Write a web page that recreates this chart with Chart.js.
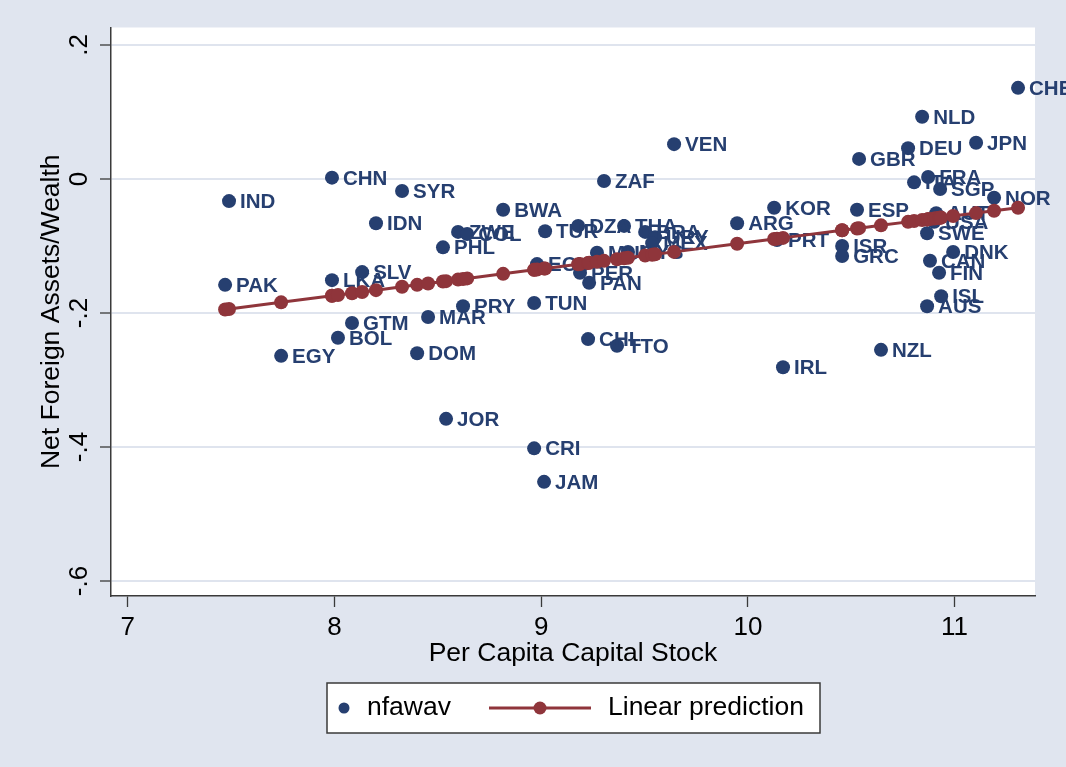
<!DOCTYPE html>
<html><head><meta charset="utf-8">
<script src="https://cdn.jsdelivr.net/npm/chart.js@4.4.1/dist/chart.umd.min.js"></script>
<style>
html,body{margin:0;padding:0;background:#e0e5ef;}
canvas{display:block;}
</style>
</head><body>
<canvas id="c" width="1066" height="767"></canvas>
<script>
// ---- data ----
const countries = ['CHE','NLD','JPN','DEU','GBR','VEN','CHN','ZAF','SYR','IND','FRA','ITA','SGP','NOR','ESP','KOR','ARG','PRT','ISR','GRC','AUT','USA','SWE','DNK','CAN','FIN','ISL','AUS','NZL','IRL','IDN','BWA','TUR','DZA','THA','BRA','URY','MEX','ZWE','COL','PHL','ECU','MUS','MYS','PER','PAN','PAK','LKA','SLV','GTM','BOL','EGY','MAR','DOM','PRY','TUN','CHL','TTO','JOR','CRI','JAM'];
const capital = [11.307,10.843,11.104,10.775,10.538,9.643,7.988,9.304,8.327,7.490,10.872,10.804,10.930,11.191,10.528,10.127,9.948,10.141,10.456,10.456,10.911,10.901,10.867,10.993,10.881,10.925,10.935,10.867,10.644,10.170,8.201,8.816,9.019,9.179,9.401,9.503,9.551,9.537,8.598,8.642,8.525,8.980,9.270,9.420,9.188,9.232,7.471,7.988,8.134,8.085,8.017,7.742,8.453,8.400,8.622,8.966,9.227,9.367,8.540,8.966,9.014];
const nfawav = [0.136,0.093,0.054,0.046,0.030,0.052,0.002,-0.003,-0.018,-0.033,0.003,-0.005,-0.015,-0.028,-0.046,-0.043,-0.066,-0.091,-0.100,-0.115,-0.051,-0.064,-0.081,-0.109,-0.122,-0.140,-0.175,-0.190,-0.255,-0.281,-0.066,-0.046,-0.078,-0.070,-0.070,-0.079,-0.087,-0.096,-0.079,-0.082,-0.102,-0.127,-0.110,-0.109,-0.140,-0.155,-0.158,-0.151,-0.139,-0.215,-0.237,-0.264,-0.206,-0.260,-0.190,-0.185,-0.239,-0.249,-0.358,-0.402,-0.452];
const linearPrediction = [-0.0429,-0.0613,-0.0509,-0.0640,-0.0734,-0.1088,-0.1743,-0.1222,-0.1609,-0.1941,-0.0601,-0.0628,-0.0578,-0.0475,-0.0738,-0.0896,-0.0967,-0.0891,-0.0766,-0.0766,-0.0586,-0.0590,-0.0603,-0.0553,-0.0598,-0.0580,-0.0576,-0.0603,-0.0692,-0.0879,-0.1659,-0.1416,-0.1335,-0.1272,-0.1184,-0.1143,-0.1124,-0.1130,-0.1502,-0.1484,-0.1531,-0.1351,-0.1236,-0.1176,-0.1268,-0.1251,-0.1948,-0.1743,-0.1686,-0.1705,-0.1732,-0.1841,-0.1559,-0.1580,-0.1492,-0.1356,-0.1253,-0.1197,-0.1525,-0.1356,-0.1337];
const seriesNames = ['nfawav','Linear prediction'];
const xTicks = [7,8,9,10,11];
const xTickLabels = ['7','8','9','10','11'];
const yTicks = [-0.6,-0.4,-0.2,0,0.2];
const yTickLabels = ['-.6','-.4','-.2','0','.2'];
const xTitle = 'Per Capita Capital Stock';
const yTitle = 'Net Foreign Assets/Wealth';

// ---- styles ----
const BG = '#e0e5ef';
const NAVY = '#263f70';
const MAROON = '#8f353b';
const AXIS = '#3a3a3a';
const FONT = '"Liberation Sans", Arial, Helvetica, sans-serif';

const scatterData = countries.map((c, i) => ({x: capital[i], y: nfawav[i]}));
const order = capital.map((v, i) => i).sort((a, b) => capital[a] - capital[b]);
const lineData = order.map(i => ({x: capital[i], y: linearPrediction[i]}));

const bgPlugin = {
  id: 'bg',
  beforeDraw(chart) {
    const {ctx, chartArea: a} = chart;
    ctx.save();
    ctx.fillStyle = BG;
    ctx.fillRect(0, 0, chart.width, chart.height);
    ctx.fillStyle = '#ffffff';
    ctx.fillRect(a.left, a.top, a.right - a.left, a.bottom - a.top);
    ctx.restore();
  }
};

const labelPlugin = {
  id: 'markerLabels',
  afterDatasetDraw(chart, args) {
    if (args.index !== 0) return;
    const ctx = chart.ctx;
    ctx.save();
    ctx.font = 'bold 20.5px ' + FONT;
    ctx.fillStyle = NAVY;
    ctx.textAlign = 'left';
    ctx.textBaseline = 'middle';
    args.meta.data.forEach((pt, i) => {
      ctx.fillText(countries[i], pt.x + 11, pt.y + 1.5);
    });
    ctx.restore();
  }
};

const legendPlugin = {
  id: 'stataLegend',
  afterDraw(chart) {
    const ctx = chart.ctx;
    const ds = chart.data.datasets;
    const bx = 327, by = 683, bw = 493, bh = 50, cy = by + bh / 2;
    ctx.save();
    ctx.fillStyle = '#ffffff';
    ctx.fillRect(bx, by, bw, bh);
    ctx.strokeStyle = AXIS;
    ctx.lineWidth = 1.5;
    ctx.strokeRect(bx, by, bw, bh);
    ctx.fillStyle = ds[0].backgroundColor;
    ctx.beginPath(); ctx.arc(344, cy, 5.5, 0, Math.PI * 2); ctx.fill();
    ctx.strokeStyle = ds[1].borderColor;
    ctx.lineWidth = 3;
    ctx.beginPath(); ctx.moveTo(489, cy); ctx.lineTo(591, cy); ctx.stroke();
    ctx.fillStyle = ds[1].backgroundColor;
    ctx.beginPath(); ctx.arc(540, cy, 6.5, 0, Math.PI * 2); ctx.fill();
    ctx.fillStyle = '#000';
    ctx.font = '26.5px ' + FONT;
    ctx.textAlign = 'left';
    ctx.textBaseline = 'middle';
    ctx.fillText(ds[0].label, 367, cy);
    ctx.fillText(ds[1].label, 608, cy);
    ctx.restore();
  }
};

new Chart(document.getElementById('c'), {
  type: 'scatter',
  data: {
    datasets: [
      {
        label: seriesNames[0],
        data: scatterData,
        backgroundColor: NAVY,
        borderColor: NAVY,
        borderWidth: 0,
        pointRadius: 7,
        order: 1
      },
      {
        type: 'line',
        label: seriesNames[1],
        data: lineData,
        backgroundColor: MAROON,
        borderColor: MAROON,
        borderWidth: 3,
        pointRadius: 7,
        pointBorderWidth: 0,
        showLine: true,
        fill: false,
        tension: 0,
        order: 0
      }
    ]
  },
  options: {
    responsive: false,
    animation: false,
    devicePixelRatio: 1,
    layout: {padding: {top: 27.5, right: 31, bottom: 0, left: 0}},
    plugins: {legend: {display: false}, tooltip: {enabled: false}},
    scales: {
      x: {
        type: 'linear',
        min: 6.919, max: 11.389,
        afterBuildTicks: s => { s.ticks = xTicks.map(v => ({value: v})); },
        afterFit: s => { s.height = 171; },
        ticks: {
          autoSkip: false, padding: 5, color: '#000',
          font: {family: FONT, size: 26},
          maxRotation: 0, minRotation: 0,
          callback: (v, i) => xTickLabels[i]
        },
        grid: {drawOnChartArea: false, drawTicks: true, tickLength: 11, tickColor: AXIS, tickWidth: 1.3},
        border: {display: true, color: AXIS, width: 1.5},
        title: {display: true, text: xTitle, color: '#000', font: {family: FONT, size: 26.5}, padding: {top: 0, bottom: 97}}
      },
      y: {
        type: 'linear',
        min: -0.6224, max: 0.2261,
        afterBuildTicks: s => { s.ticks = yTicks.map(v => ({value: v})); },
        afterFit: s => { s.width = 111; },
        ticks: {
          autoSkip: false, padding: 5, color: '#000',
          font: {family: FONT, size: 26},
          minRotation: 90, maxRotation: 90, crossAlign: 'center',
          callback: (v, i) => yTickLabels[i]
        },
        grid: {color: '#dfe4ee', lineWidth: 2, drawTicks: true, tickLength: 11, tickColor: AXIS, tickWidth: 1.3},
        border: {display: true, color: AXIS, width: 1.5},
        title: {display: true, text: yTitle, color: '#000', font: {family: FONT, size: 26.5}, padding: {top: 36, bottom: 0}}
      }
    }
  },
  plugins: [bgPlugin, labelPlugin, legendPlugin]
});
</script>
</body></html>
